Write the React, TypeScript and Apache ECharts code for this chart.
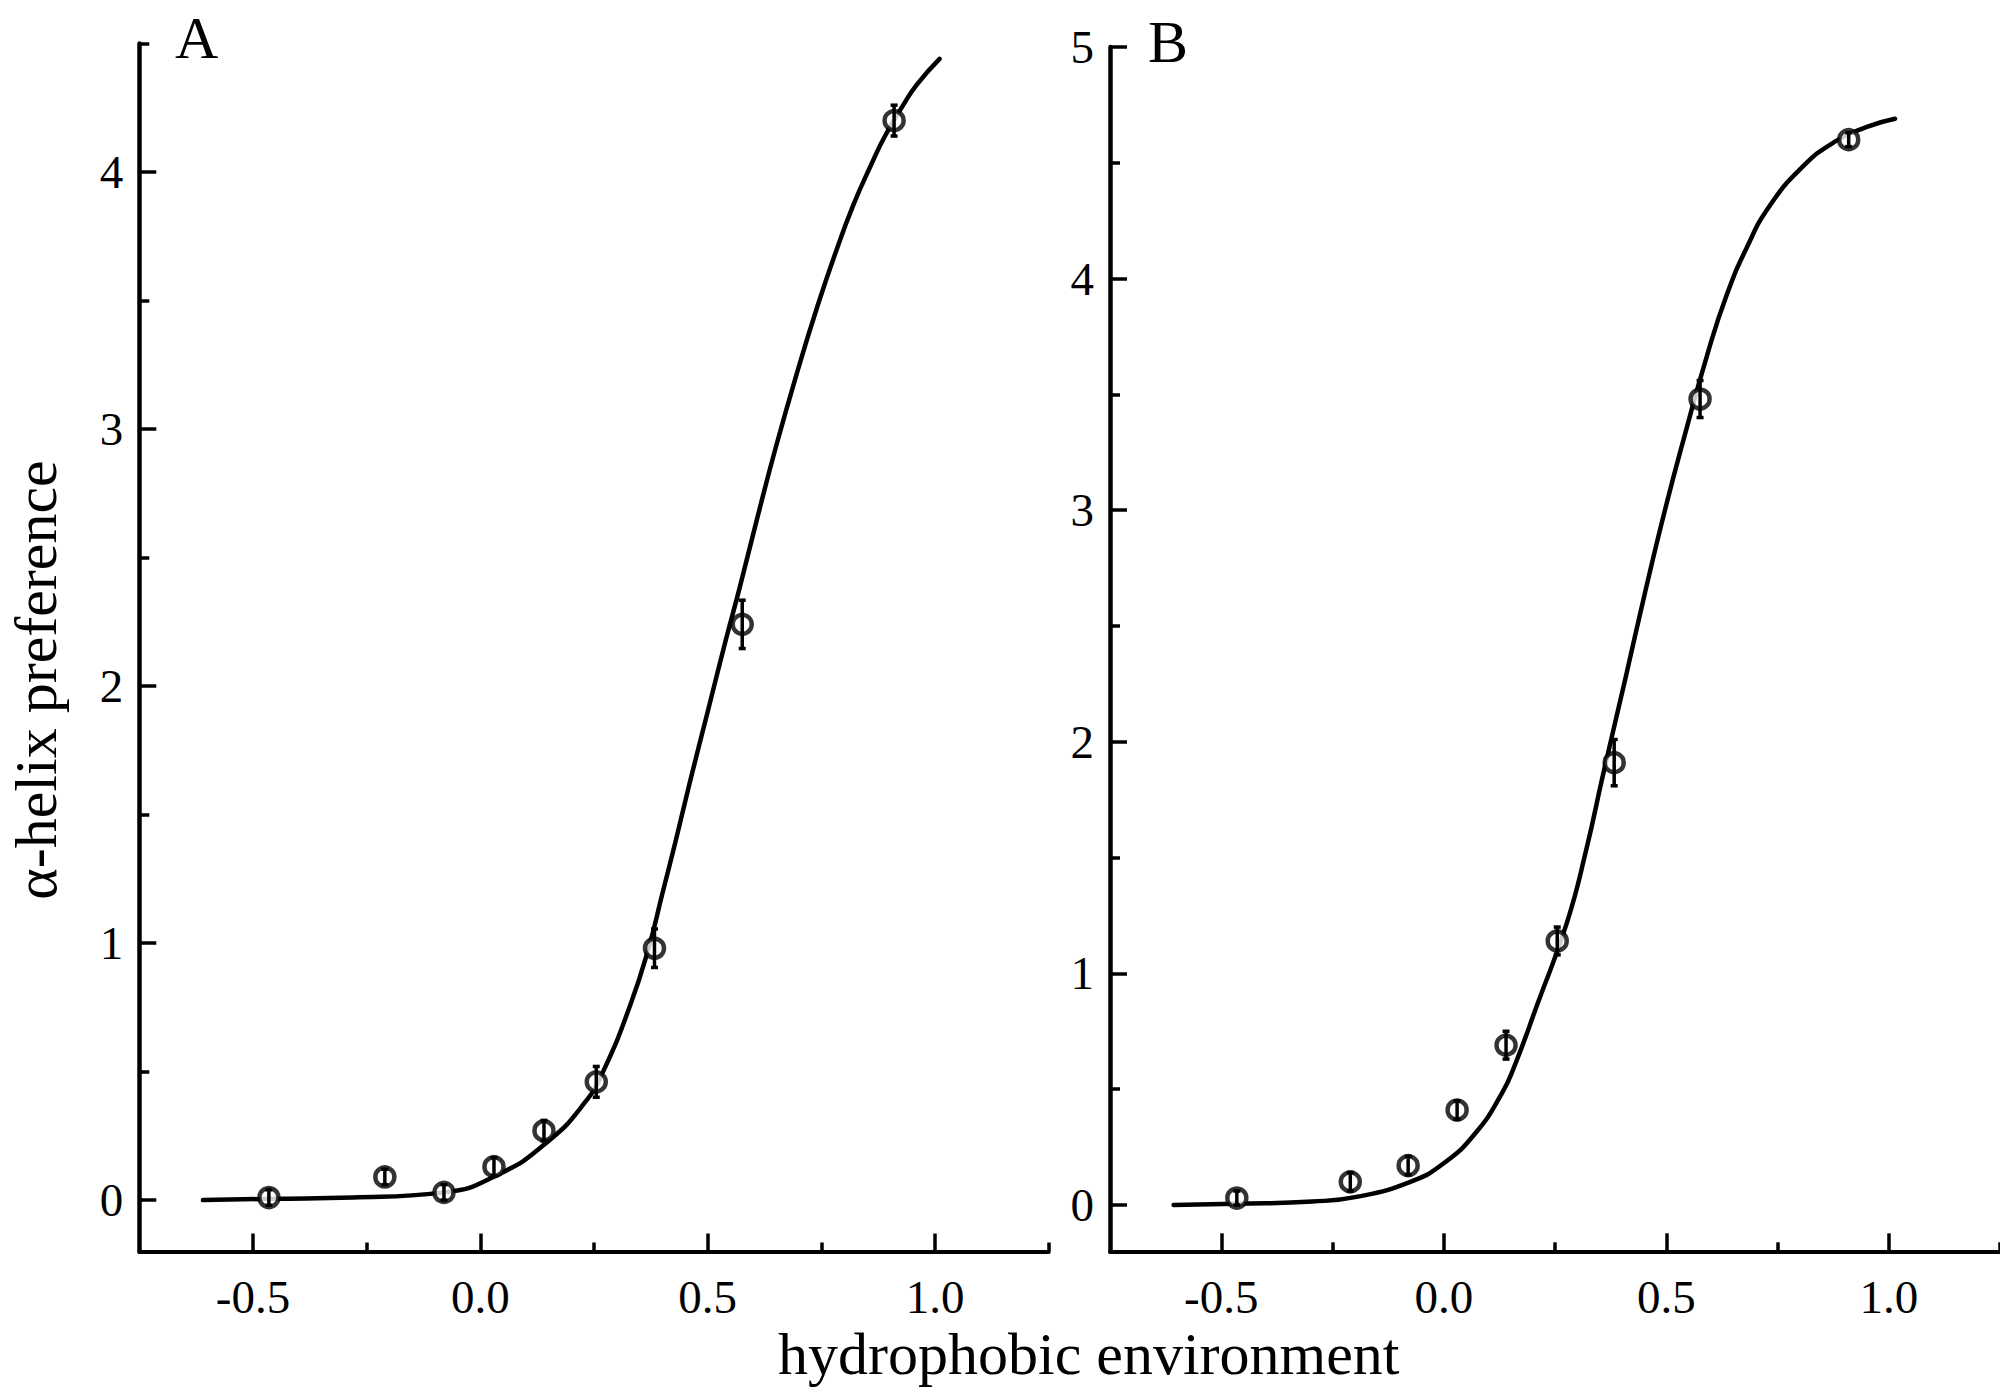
import React, { useEffect, useRef } from "react";
import * as echarts from "echarts";

// ---- data ----
const hydrophobicity = [-0.465, -0.21, -0.08, 0.03, 0.14, 0.255, 0.383, 0.576, 0.91];

const preferenceA = [0.01, 0.09, 0.03, 0.13, 0.27, 0.46, 0.98, 2.24, 4.2];
const errorA = [0.03, 0.03, 0.03, 0.035, 0.04, 0.06, 0.075, 0.094, 0.06];

const preferenceB = [0.03, 0.1, 0.17, 0.41, 0.69, 1.14, 1.91, 3.48, 4.6];
const errorB = [0.03, 0.04, 0.04, 0.04, 0.06, 0.06, 0.1, 0.08, 0.03];

const fitXA = [-0.61, -0.46, -0.28, -0.08, 0.04, 0.15, 0.23, 0.27, 0.33, 0.37, 0.4, 0.43, 0.46, 0.5, 0.54, 0.57, 0.61, 0.65, 0.7, 0.74, 0.78, 0.82, 0.86, 0.89, 0.93, 0.96, 1.01];
const fitYA = [0, 0.005, 0.01, 0.03, 0.1, 0.23, 0.38, 0.5, 0.76, 0.98, 1.19, 1.4, 1.62, 1.9, 2.18, 2.38, 2.66, 2.93, 3.24, 3.47, 3.68, 3.87, 4.03, 4.14, 4.26, 4.34, 4.44];

const fitXB = [-0.607, -0.468, -0.295, -0.193, -0.075, 0.0, 0.071, 0.13, 0.159, 0.211, 0.277, 0.321, 0.357, 0.409, 0.453, 0.497, 0.541, 0.592, 0.636, 0.68, 0.731, 0.805, 0.878, 0.951, 1.014];
const fitYB = [0, 0.005, 0.015, 0.036, 0.1, 0.18, 0.31, 0.48, 0.6, 0.87, 1.22, 1.54, 1.85, 2.28, 2.65, 3.0, 3.32, 3.67, 3.93, 4.13, 4.31, 4.48, 4.59, 4.655, 4.69];

const xMajorTicks = [-0.5, 0, 0.5, 1.0];
const xMinorTicks = [-0.25, 0.25, 0.75, 1.25];
const yMajorTicksA = [0, 1, 2, 3, 4];
const yMinorTicksA = [0.5, 1.5, 2.5, 3.5, 4.5];
const yMajorTicksB = [0, 1, 2, 3, 4, 5];
const yMinorTicksB = [0.5, 1.5, 2.5, 3.5, 4.5];

const panelLabels = ["A", "B"];
const xTitle = "hydrophobic environment";
const yTitle = "α-helix preference";

const FONT = "Liberation Serif";
const BLACK = "#000";

function App() {
  const ref = useRef<HTMLDivElement>(null);

  useEffect(() => {
    if (!ref.current) return;
    const chart = echarts.init(ref.current, undefined, { renderer: "svg" });

    const labelStyle = { color: BLACK, fontFamily: FONT, fontSize: 47 };

    const mkX = (gridIndex: number, max: number, minor: boolean) => ({
      type: "value",
      gridIndex,
      min: -0.75,
      max,
      position: "bottom",
      splitLine: { show: false },
      axisLine: { show: !minor, onZero: false, lineStyle: { color: BLACK, width: 4 } },
      axisTick: {
        show: true,
        inside: true,
        length: minor ? 9 : 18,
        customValues: minor ? xMinorTicks : xMajorTicks,
        lineStyle: { color: BLACK, width: 3.5 },
      },
      axisLabel: minor
        ? { show: false }
        : {
            show: true,
            customValues: xMajorTicks,
            margin: 22,
            formatter: (v: number) => v.toFixed(1),
            ...labelStyle,
          },
    });

    const mkY = (gridIndex: number, max: number, values: number[], major: boolean) => ({
      type: "value",
      gridIndex,
      min: -0.2,
      max,
      position: "left",
      splitLine: { show: false },
      axisLine: { show: major, onZero: false, lineStyle: { color: BLACK, width: 4.5 } },
      axisTick: {
        show: true,
        inside: true,
        length: major ? 17 : 10,
        customValues: values,
        lineStyle: { color: BLACK, width: 3.5 },
      },
      axisLabel: major
        ? {
            show: true,
            customValues: values,
            margin: 16,
            formatter: (v: number) => String(v),
            ...labelStyle,
          }
        : { show: false },
    });

    const errorSeries = (xi: number, yi: number, ys: number[], errs: number[]) => ({
      type: "custom",
      xAxisIndex: xi,
      yAxisIndex: yi,
      z: 5,
      data: hydrophobicity.map((x, i) => [x, ys[i], errs[i]]),
      encode: { x: 0, y: 1 },
      renderItem: (params: any, api: any) => {
        const x = api.value(0);
        const y = api.value(1);
        const e = api.value(2);
        const top = api.coord([x, y + e]);
        const bot = api.coord([x, y - e]);
        const cap = 3.5;
        const st = { stroke: BLACK, lineWidth: 3.5 };
        return {
          type: "group",
          children: [
            { type: "line", shape: { x1: top[0], y1: top[1], x2: bot[0], y2: bot[1] }, style: st },
            { type: "line", shape: { x1: top[0] - cap, y1: top[1], x2: top[0] + cap, y2: top[1] }, style: st },
            { type: "line", shape: { x1: bot[0] - cap, y1: bot[1], x2: bot[0] + cap, y2: bot[1] }, style: st },
          ],
        };
      },
    });

    const pointSeries = (xi: number, yi: number, ys: number[]) => ({
      type: "scatter",
      xAxisIndex: xi,
      yAxisIndex: yi,
      z: 4,
      symbol: "circle",
      symbolSize: 19,
      itemStyle: { color: "#fff", borderColor: BLACK, borderWidth: 4.5 },
      data: hydrophobicity.map((x, i) => [x, ys[i]]),
    });

    const fitSeries = (xi: number, yi: number, xs: number[], ys: number[]) => ({
      type: "line",
      xAxisIndex: xi,
      yAxisIndex: yi,
      z: 3,
      showSymbol: false,
      symbol: "none",
      smooth: 0.5,
      lineStyle: { color: BLACK, width: 4.5, cap: "round", join: "round" },
      data: xs.map((x, i) => [x, ys[i]]),
    });

    const option: any = {
      animation: false,
      backgroundColor: "#fff",
      grid: [
        { left: 139.3, top: 43.5, width: 909.4, height: 1208, containLabel: false },
        { left: 1110, top: 47, width: 909, height: 1204.3, containLabel: false },
      ],
      xAxis: [mkX(0, 1.25, false), mkX(0, 1.25, true), mkX(1, 1.25, false), mkX(1, 1.25, true)],
      yAxis: [
        mkY(0, 4.5, yMajorTicksA, true),
        mkY(0, 4.5, yMinorTicksA, false),
        mkY(1, 5, yMajorTicksB, true),
        mkY(1, 5, yMinorTicksB, false),
      ],
      series: [
        fitSeries(0, 0, fitXA, fitYA),
        pointSeries(0, 0, preferenceA),
        errorSeries(0, 0, preferenceA, errorA),
        fitSeries(2, 2, fitXB, fitYB),
        pointSeries(2, 2, preferenceB),
        errorSeries(2, 2, preferenceB, errorB),
      ],
      graphic: [
        {
          type: "text",
          x: 175,
          y: 38,
          style: { text: panelLabels[0], font: `60px "${FONT}"`, fill: BLACK, textAlign: "left", textVerticalAlign: "middle" },
        },
        {
          type: "text",
          x: 1148,
          y: 42,
          style: { text: panelLabels[1], font: `60px "${FONT}"`, fill: BLACK, textAlign: "left", textVerticalAlign: "middle" },
        },
        {
          type: "text",
          x: 778,
          y: 1354,
          style: { text: xTitle, font: `60px "${FONT}"`, fill: BLACK, textAlign: "left", textVerticalAlign: "middle" },
        },
        {
          type: "text",
          x: 36,
          y: 680,
          rotation: Math.PI / 2,
          style: { text: yTitle, font: `60px "${FONT}"`, fill: BLACK, textAlign: "center", textVerticalAlign: "middle" },
        },
      ],
    };

    chart.setOption(option);
    return () => chart.dispose();
  }, []);

  return (
    <div
      ref={ref}
      style={{ position: "fixed", left: 0, top: 0, width: 2000, height: 1389, background: "#fff", overflow: "hidden" }}
    />
  );
}

export default App;
